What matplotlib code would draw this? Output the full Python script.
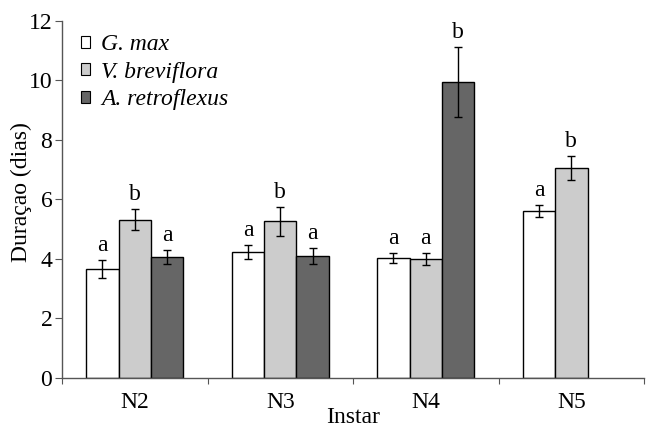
import numpy as np
import matplotlib.pyplot as plt
from matplotlib.patches import Patch

plt.rcParams['font.family'] = ['Liberation Serif', 'DejaVu Serif']

instars = ["N2", "N3", "N4", "N5"]
species = ["G. max", "V. breviflora", "A. retroflexus"]
colors = ["#ffffff", "#cccccc", "#666666"]

# mean duration (days) per host, nan = no data
g_max = [3.66, 4.24, 4.02, 5.61]
v_brev = [5.32, 5.26, 3.99, 7.06]
a_retro = [4.07, 4.10, 9.95, np.nan]
means = [g_max, v_brev, a_retro]

g_err = [0.30, 0.23, 0.17, 0.20]
v_err = [0.36, 0.49, 0.20, 0.40]
a_err = [0.24, 0.27, 1.17, np.nan]
errs = [g_err, v_err, a_err]

letters = [["a", "a", "a", "a"],
           ["b", "b", "a", "b"],
           ["a", "a", "b", ""]]

fs = 17

fig = plt.figure(figsize=(6.46, 4.28), dpi=100)
ax = fig.add_axes([0.096, 0.117, 0.901, 0.834])

x = np.arange(len(instars))
w = 0.2227
for i in range(3):
	pos = x + (i - 1) * w
	m = np.array(means[i])
	e = np.array(errs[i])
	ok = ~np.isnan(m)
	ax.bar(pos[ok], m[ok], w, color=colors[i], edgecolor="black", linewidth=1.0, zorder=2)
	ax.errorbar(pos[ok], m[ok], yerr=e[ok], fmt="none", ecolor="black",
		elinewidth=1.0, capsize=3, capthick=1.0, zorder=3)
	for p, mv, ev, lt in zip(pos[ok], m[ok], e[ok], np.array(letters[i])[ok]):
		ax.annotate(lt, (p, mv + ev), xytext=(0, 3), textcoords="offset points",
			ha="center", va="bottom", fontsize=fs)

ax.set_xlim(-0.5, 3.5)
ax.set_ylim(0, 12)
ax.set_yticks(np.arange(0, 13, 2))
ax.set_xticks(np.arange(-0.5, 3.6, 1))
ax.set_xticklabels([])
ax.set_xticks(x, minor=True)
ax.set_xticklabels(instars, minor=True)
ax.tick_params(axis="x", which="minor", length=0, pad=10, labelsize=fs)
ax.tick_params(axis="x", which="major", length=4, direction="out", color="#555555")
ax.tick_params(axis="y", length=5, direction="out", labelsize=fs, pad=2, color="#555555")

for s in ["top", "right"]:
	ax.spines[s].set_visible(False)
for s in ["left", "bottom"]:
	ax.spines[s].set_color("#555555")
	ax.spines[s].set_linewidth(1.0)

ax.set_ylabel("Duraçao (dias)", fontsize=fs)
ax.yaxis.set_label_coords(-0.052, 0.52)
ax.set_xlabel("Instar", fontsize=fs, labelpad=-4)

handles = [Patch(facecolor=c, edgecolor="black", linewidth=0.8) for c in colors]
ax.legend(handles, species, loc="upper left", bbox_to_anchor=(-0.004, 1.022),
	frameon=False, prop={"style": "italic", "size": fs},
	handlelength=0.4, handleheight=0.4, handletextpad=0.45, labelspacing=0.27)

fig.savefig("out.png", dpi=100)
